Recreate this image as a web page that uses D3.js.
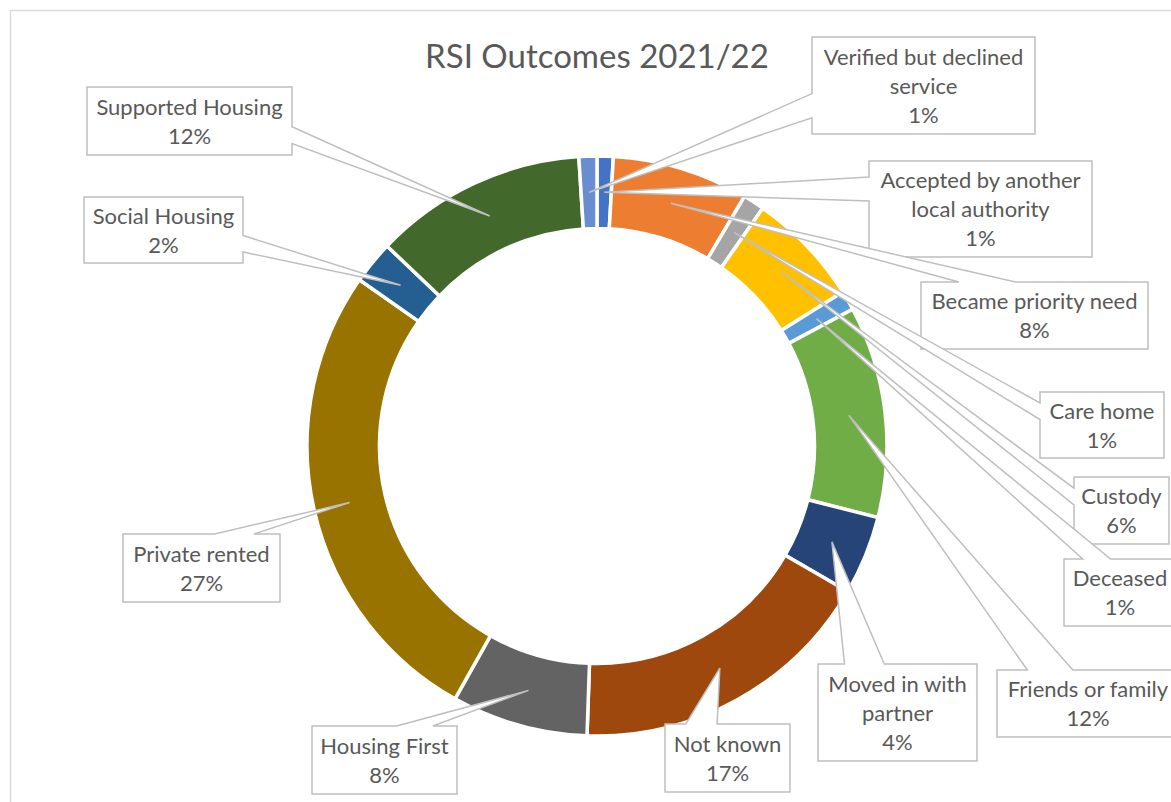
<!DOCTYPE html>
<html>
<head>
<meta charset="utf-8">
<title>RSI Outcomes 2021/22</title>
<style>
  html, body { margin: 0; padding: 0; background: #fff; }
  svg { display: block; }
  text { font-family: Lato, "Open Sans", sans-serif; fill: #595959; }
  .frame { fill: none; stroke: #d9d9d9; stroke-width: 1.5px; }
  .slice { stroke: #fff; stroke-width: 3.5px; }
  .callout { fill: #fff; stroke: #bfbfbf; stroke-width: 1.5px; }
  .title { font-size: 33px; }
  .labelText { font-size: 22px; }
</style>
</head>
<body>
<svg width="1171" height="802"></svg>
<script src="https://cdn.jsdelivr.net/npm/d3@7/dist/d3.min.js"></script>
<script>
var categories = [
  'Accepted by another local authority', 'Became priority need', 'Care home', 'Custody',
  'Deceased', 'Friends or family', 'Moved in with partner', 'Not known', 'Housing First',
  'Private rented', 'Social Housing', 'Supported Housing', 'Verified but declined service'
];
var values = [0.9, 7.6, 1.2, 6.4, 1.1, 11.8, 4.4, 17.2, 7.6, 26.6, 2.4, 11.9, 1.0];
var colours = [
  '#4472c4', '#ed7d31', '#a5a5a5', '#ffc000', '#5b9bd5', '#70ad47', '#264478',
  '#9e480e', '#636363', '#997300', '#255e91', '#43682b', '#698ed0'
];
// how each category name wraps inside its callout
var labelLines = [
  ['Accepted by another', 'local authority'], ['Became priority need'], ['Care home'], ['Custody'],
  ['Deceased'], ['Friends or family'], ['Moved in with', 'partner'], ['Not known'], ['Housing First'],
  ['Private rented'], ['Social Housing'], ['Supported Housing'], ['Verified but declined', 'service']
];

// callout boxes: x, y, width, height (layout only)
var boxes = [
  [869, 161, 223, 96], [921, 282, 227, 67], [1040, 392, 124, 66], [1074, 477, 95, 67],
  [1064, 559, 112, 67], [997, 670, 182, 67], [818, 664, 159, 97], [665, 724, 125, 68],
  [312, 726, 145, 68], [123, 534, 157, 68], [84, 197, 159, 66], [87, 87, 205, 68],
  [812, 37, 223, 97]
];

var cx = 597, cy = 446;
var outerR = 290, innerR = 217.5;
var lineHeight = 29;

var svg = d3.select('svg');

svg.append('rect')
  .classed('frame', true)
  .attr('x', 10.5).attr('y', 10.5)
  .attr('width', 1300).attr('height', 900);

svg.append('text')
  .classed('title', true)
  .attr('x', cx).attr('y', 68)
  .attr('text-anchor', 'middle')
  .text('RSI Outcomes 2021/22');

var total = d3.sum(values);
var pie = d3.pie().sort(null).value(function(d) { return d; });
var arc = d3.arc().innerRadius(innerR).outerRadius(outerR);
var arcs = pie(values);

var ring = svg.append('g').attr('transform', 'translate(' + cx + ',' + cy + ')');
ring.selectAll('path')
  .data(arcs)
  .enter().append('path')
    .classed('slice', true)
    .attr('fill', function(d, i) { return colours[i]; })
    .attr('d', arc);

// Excel style wedgeRectCallout: a box with a tapered pointer to (tx, ty)
function calloutPath(b, tx, ty) {
  var l = b[0], t = b[1], w = b[2], h = b[3], r = l + w, bt = t + h;
  var dx = tx - (l + w / 2), dy = ty - (t + h / 2);
  var vertical = Math.abs(dy) > Math.abs(dx * h / w);
  var x1 = l + w * (dx > 0 ? 7 : 2) / 12, x2 = l + w * (dx > 0 ? 10 : 5) / 12;
  var y1 = t + h * (dy > 0 ? 7 : 2) / 12, y2 = t + h * (dy > 0 ? 10 : 5) / 12;
  var p = [[l, t]];
  if (vertical && dy < 0) p.push([x1, t], [tx, ty], [x2, t]);
  p.push([r, t]);
  if (!vertical && dx > 0) p.push([r, y1], [tx, ty], [r, y2]);
  p.push([r, bt]);
  if (vertical && dy > 0) p.push([x2, bt], [tx, ty], [x1, bt]);
  p.push([l, bt]);
  if (!vertical && dx < 0) p.push([l, y2], [tx, ty], [l, y1]);
  return 'M' + p.map(function(q) { return q[0] + ',' + q[1]; }).join('L') + 'Z';
}

var labels = svg.append('g');
arcs.forEach(function(d, i) {
  var c = arc.centroid(d);
  var b = boxes[i];
  var g = labels.append('g');
  g.append('path')
    .classed('callout', true)
    .attr('d', calloutPath(b, cx + c[0], cy + c[1]));
  var lines = labelLines[i].concat([Math.round(values[i] / total * 100) + '%']);
  var x = b[0] + b[2] / 2;
  var top = b[1] + (b[3] - lines.length * lineHeight) / 2;
  lines.forEach(function(s, j) {
    g.append('text')
      .classed('labelText', true)
      .attr('x', x)
      .attr('y', top + lineHeight / 2 + j * lineHeight + 8)
      .attr('text-anchor', 'middle')
      .text(s);
  });
});
</script>
</body>
</html>
